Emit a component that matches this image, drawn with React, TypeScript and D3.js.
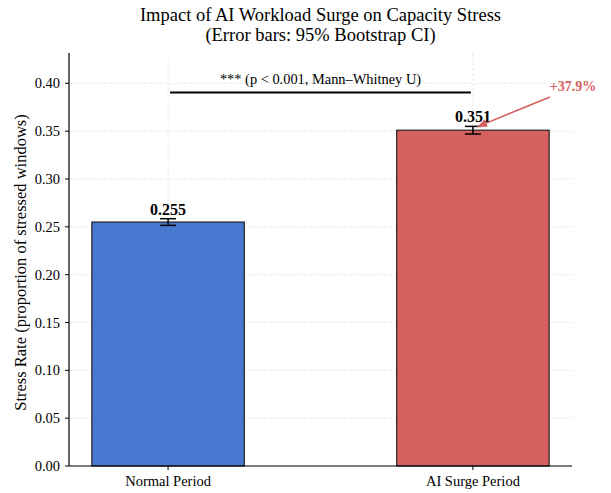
import React from "react";
import * as d3 from "d3";

const categories = ["Normal Period", "AI Surge Period"];
const rates = [0.255, 0.351];
const ciLow = [0.2515, 0.347];
const ciHigh = [0.2585, 0.355];
const colors = ["#4878d0", "#d65f5f"];
const yTicks = [0, 0.05, 0.1, 0.15, 0.2, 0.25, 0.3, 0.35, 0.4];
const sigLabel = "*** (p < 0.001, Mann\u2013Whitney U)";
const sigY = 0.3905;
const pctLabel = "+37.9%";

const W = 611, H = 493;
const left = 69, right = 572, top = 53, bottom = 466;
const font = "'Liberation Serif', 'Times New Roman', serif";

export default function App() {
  const x = d3.scaleLinear().domain([-0.325, 1.325]).range([left, right]);
  const y = d3.scaleLinear().domain([0, 0.4317]).range([bottom, top]);
  const bw = x(0.5) - x(0);
  const cap = 8;
  const ax = x(1) + 4, ay = y(ciHigh[1]) + 0.5;
  const tx = 550, ty = 97;
  const ang = Math.atan2(ay - ty, ax - tx);
  const hl = 10, hw = 4;
  const p1 = [ax - hl * Math.cos(ang) + hw * Math.sin(ang), ay - hl * Math.sin(ang) - hw * Math.cos(ang)];
  const p2 = [ax - hl * Math.cos(ang) - hw * Math.sin(ang), ay - hl * Math.sin(ang) + hw * Math.cos(ang)];
  return (
    <svg width={W} height={H} style={{ position: "absolute", left: 0, top: 0, fontFamily: font }}>
      <rect width={W} height={H} fill="white" />
      <text x={(left + right) / 2} y={21} textAnchor="middle" fontSize={18.5}>Impact of AI Workload Surge on Capacity Stress</text>
      <text x={(left + right) / 2} y={41} textAnchor="middle" fontSize={18.5}>(Error bars: 95% Bootstrap CI)</text>
      {yTicks.map((t) => (
        <line key={"gy" + t} x1={left} x2={right} y1={y(t)} y2={y(t)} stroke="#b0b0b0" strokeOpacity={0.35} strokeDasharray="3,2" strokeWidth={0.8} />
      ))}
      {categories.map((c, i) => (
        <line key={"gx" + c} x1={x(i)} x2={x(i)} y1={top} y2={bottom} stroke="#b0b0b0" strokeOpacity={0.35} strokeDasharray="3,2" strokeWidth={0.8} />
      ))}
      {categories.map((c, i) => (
        <rect key={c} x={x(i) - bw / 2} y={y(rates[i])} width={bw} height={bottom - y(rates[i])} fill={colors[i]} stroke="#222" strokeWidth={1.2} />
      ))}
      {categories.map((c, i) => (
        <g key={"e" + c} stroke="black" strokeWidth={1.5}>
          <line x1={x(i)} x2={x(i)} y1={y(ciLow[i])} y2={y(ciHigh[i])} />
          <line x1={x(i) - cap} x2={x(i) + cap} y1={y(ciLow[i])} y2={y(ciLow[i])} />
          <line x1={x(i) - cap} x2={x(i) + cap} y1={y(ciHigh[i])} y2={y(ciHigh[i])} />
        </g>
      ))}
      {categories.map((c, i) => (
        <text key={"v" + c} x={x(i)} y={y(ciHigh[i]) - 4} textAnchor="middle" fontSize={16} fontWeight="bold">{rates[i].toFixed(3)}</text>
      ))}
      <line x1={x(0) + 2} x2={x(1) - 2} y1={y(sigY)} y2={y(sigY)} stroke="black" strokeWidth={2} />
      <text x={(x(0) + x(1)) / 2} y={y(sigY) - 8} textAnchor="middle" fontSize={14.4}>{sigLabel}</text>
      <line x1={tx} y1={ty} x2={ax - 6 * Math.cos(ang)} y2={ay - 6 * Math.sin(ang)} stroke="#d65f5f" strokeWidth={1.5} />
      <polygon points={`${ax},${ay} ${p1[0]},${p1[1]} ${p2[0]},${p2[1]}`} fill="#d65f5f" />
      <text x={573} y={91} textAnchor="middle" fontSize={14} fontWeight="bold" fill="#d65f5f">{pctLabel}</text>
      <line x1={left} x2={left} y1={top} y2={bottom} stroke="black" strokeWidth={1.2} />
      <line x1={left} x2={right} y1={bottom} y2={bottom} stroke="black" strokeWidth={1.2} />
      {yTicks.map((t) => (
        <g key={"yt" + t}>
          <line x1={left - 4} x2={left} y1={y(t)} y2={y(t)} stroke="black" strokeWidth={1} />
          <text x={left - 9} y={y(t)} dy="0.35em" textAnchor="end" fontSize={14.5}>{t.toFixed(2)}</text>
        </g>
      ))}
      {categories.map((c, i) => (
        <g key={"xt" + c}>
          <line x1={x(i)} x2={x(i)} y1={bottom} y2={bottom + 4} stroke="black" strokeWidth={1} />
          <text x={x(i)} y={bottom + 20} textAnchor="middle" fontSize={14.5}>{c}</text>
        </g>
      ))}
      <text transform={`translate(26,${(top + bottom) / 2 + 3}) rotate(-90)`} textAnchor="middle" fontSize={16.5}>Stress Rate (proportion of stressed windows)</text>
    </svg>
  );
}
